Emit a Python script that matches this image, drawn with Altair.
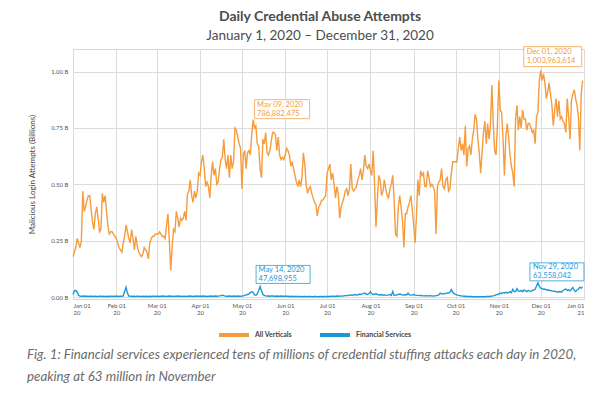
import altair as alt
import pandas as pd

# ---------------- data (billions of login attempts per day) ----------------
jan_all = [0.18,0.20,0.22,0.26,0.24,0.22,0.25,0.47,0.38,0.40, 0.43,0.45,0.45,0.39,0.33,0.30,0.37,0.40,0.35,0.29, 0.30,0.46,0.42,0.45,0.38,0.32,0.28,0.29,0.29,0.28,0.27]
feb_all = [0.26,0.24,0.22,0.21,0.20,0.24,0.27,0.32,0.29,0.26, 0.24,0.30,0.26,0.21,0.27,0.23,0.20,0.19,0.18,0.19, 0.22,0.21,0.20,0.17,0.24,0.26,0.27,0.27,0.28]
mar_all = [0.28,0.28,0.29,0.28,0.27,0.27,0.26,0.32,0.37,0.25, 0.12,0.22,0.30,0.29,0.38,0.35,0.31,0.35,0.34,0.35, 0.38,0.34,0.46,0.47,0.52,0.45,0.42,0.47,0.44,0.47,0.55]
apr_all = [0.54,0.60,0.63,0.57,0.49,0.51,0.49,0.44,0.54,0.60, 0.54,0.57,0.50,0.51,0.57,0.61,0.62,0.70,0.61,0.57, 0.63,0.53,0.63,0.57,0.60,0.75,0.74,0.71,0.68,0.66]
may_all = [0.48,0.63,0.65,0.57,0.64,0.65,0.63,0.72,0.786882475,0.75, 0.76,0.68,0.67,0.57,0.53,0.70,0.68,0.73,0.64,0.63, 0.65,0.69,0.73,0.73,0.72,0.65,0.71,0.63,0.61,0.62,0.61]
jun_all = [0.63,0.66,0.65,0.63,0.58,0.60,0.57,0.54,0.51,0.49, 0.52,0.49,0.53,0.64,0.59,0.50,0.46,0.48,0.49,0.46, 0.44,0.42,0.41,0.36,0.40,0.41,0.43,0.43,0.44,0.45]
jul_all = [0.55,0.57,0.59,0.52,0.55,0.50,0.44,0.49,0.46,0.35, 0.40,0.42,0.44,0.47,0.48,0.45,0.48,0.59,0.48,0.47, 0.48,0.49,0.52,0.54,0.57,0.52,0.56,0.63,0.58,0.57,0.59]
aug_all = [0.56,0.54,0.65,0.50,0.31,0.43,0.54,0.52,0.45,0.47, 0.52,0.48,0.45,0.44,0.48,0.50,0.54,0.43,0.28,0.27, 0.40,0.45,0.40,0.34,0.22,0.37,0.37,0.40,0.42,0.45,0.39]
sep_all = [0.32,0.24,0.36,0.52,0.45,0.56,0.54,0.55,0.49,0.49, 0.56,0.53,0.49,0.50,0.49,0.47,0.28,0.49,0.51,0.52, 0.57,0.49,0.48,0.52,0.53,0.47,0.48,0.55,0.60,0.60]
oct_all = [0.60,0.60,0.66,0.71,0.65,0.68,0.63,0.76,0.58,0.66, 0.67,0.63,0.70,0.74,0.81,0.79,0.70,0.64,0.55,0.64, 0.73,0.78,0.68,0.77,0.70,0.76,0.94,0.77,0.65,0.63,0.77]
nov_all = [0.96,0.83,0.82,0.70,0.54,0.71,0.77,0.71,0.63,0.58, 0.55,0.49,0.79,0.85,0.74,0.80,0.75,0.83,0.79,0.79, 0.74,0.77,0.77,0.75,0.73,0.74,0.68,0.80,0.82,0.96]
dec_all = [1.003963614,0.96,0.99,0.95,0.88,0.91,0.95,0.90,0.85,0.76, 0.83,0.88,0.80,0.87,0.79,0.80,0.78,0.77,0.73,0.88, 0.80,0.70,0.87,0.90,0.92,0.88,0.85,0.80,0.65,0.90,0.96]

jan_fin = [0.012,0.028,0.030,0.022,0.008,0.005,0.004,0.004,0.005,0.004, 0.004,0.003,0.004,0.004,0.003,0.004,0.004,0.003,0.003,0.004, 0.004,0.003,0.004,0.003,0.003,0.004,0.003,0.004,0.004,0.003,0.004]
feb_fin = [0.004,0.004,0.003,0.004,0.004,0.006,0.025,0.044,0.018,0.005, 0.004,0.004,0.003,0.004,0.003,0.004,0.004,0.003,0.003,0.004, 0.003,0.004,0.003,0.003,0.004,0.003,0.004,0.004,0.003]
mar_fin = [0.004,0.004,0.003,0.004,0.005,0.004,0.004,0.003,0.004,0.005, 0.004,0.004,0.003,0.004,0.004,0.005,0.004,0.004,0.003,0.004, 0.004,0.003,0.004,0.004,0.005,0.004,0.003,0.004,0.004,0.005,0.004]
apr_fin = [0.004,0.004,0.005,0.004,0.004,0.003,0.004,0.004,0.005,0.004, 0.004,0.005,0.004,0.005,0.006,0.007,0.009,0.007,0.005,0.004, 0.004,0.005,0.004,0.004,0.005,0.004,0.004,0.005,0.004,0.004]
may_fin = [0.005,0.006,0.008,0.010,0.012,0.015,0.020,0.024,0.022,0.010, 0.009,0.015,0.030,0.047698955,0.028,0.012,0.008,0.006,0.005,0.005, 0.004,0.005,0.005,0.004,0.004,0.005,0.004,0.004,0.005,0.004,0.004]
jun_fin = [0.004,0.004,0.004,0.003,0.003,0.004,0.003,0.003,0.003,0.003, 0.003,0.003,0.002,0.003,0.003,0.003,0.002,0.003,0.003,0.002, 0.002,0.003,0.003,0.002,0.002,0.003,0.003,0.002,0.003,0.003]
jul_fin = [0.003,0.003,0.003,0.004,0.004,0.003,0.004,0.005,0.004,0.005, 0.006,0.005,0.006,0.007,0.008,0.007,0.009,0.010,0.008,0.010, 0.012,0.010,0.011,0.013,0.012,0.015,0.016,0.018,0.014,0.012,0.016]
aug_fin = [0.024,0.015,0.012,0.013,0.016,0.012,0.011,0.010,0.012,0.009, 0.010,0.008,0.009,0.010,0.012,0.008,0.025,0.008,0.009,0.011, 0.012,0.014,0.012,0.010,0.009,0.012,0.010,0.018,0.010,0.009,0.010]
sep_fin = [0.012,0.009,0.008,0.008,0.007,0.008,0.007,0.006,0.006,0.007, 0.006,0.006,0.007,0.006,0.005,0.006,0.007,0.008,0.010,0.018, 0.015,0.014,0.017,0.016,0.019,0.018,0.022,0.034,0.022,0.016]
oct_fin = [0.012,0.010,0.008,0.007,0.006,0.005,0.004,0.004,0.003,0.003, 0.003,0.003,0.002,0.002,0.002,0.002,0.002,0.002,0.002,0.002, 0.002,0.002,0.003,0.003,0.003,0.004,0.005,0.006,0.008,0.010,0.012]
nov_fin = [0.014,0.018,0.016,0.020,0.019,0.022,0.018,0.021,0.025,0.020, 0.035,0.024,0.026,0.038,0.028,0.026,0.030,0.024,0.032,0.028, 0.025,0.030,0.027,0.026,0.030,0.032,0.035,0.050,0.063558042,0.048]
dec_fin = [0.040,0.038,0.035,0.036,0.032,0.033,0.030,0.030,0.028,0.026, 0.027,0.025,0.022,0.025,0.024,0.022,0.030,0.034,0.036,0.030, 0.033,0.028,0.036,0.043,0.030,0.025,0.032,0.036,0.044,0.040,0.045]

series_names = ["All Verticals", "Financial Services"]
series_colors = ["#F59C3C", "#1B98D5"]

y_ticks = [0, 0.25, 0.5, 0.75, 1.0]

annotations = [
    # date, value, line1, line2, series index, box w, box h, box dx, box dy, text dx
    ("2020-05-09", 0.786882475, "May 09, 2020", "786,882,475", 0, 55, 19, 29, -10.5, 4),
    ("2020-05-14", 0.047698955, "May 14, 2020", "47,698,955", 1, 54, 18, 23, -12, -1.5),
    ("2020-12-01", 1.003963614, "Dec 01, 2020", "1,003,963,614", 0, 58, 20, 12, -14, -14),
    ("2020-11-29", 0.063558042, "Nov 29, 2020", "63,558,042", 1, 54, 18, 19, -11, -5),
]

title_text = "Daily Credential Abuse Attempts"
subtitle_text = "January 1, 2020 \u2013 December 31, 2020"
y_title = "Malicious Login Attempts (Billions)"
caption_1 = "Fig. 1: Financial services experienced tens of millions of credential stuffing attacks each day in 2020,"
caption_2 = "peaking at 63 million in November"

# ---------------- build table ----------------
all_verticals = (jan_all + feb_all + mar_all + apr_all + may_all + jun_all +
                 jul_all + aug_all + sep_all + oct_all + nov_all + dec_all)
financial = (jan_fin + feb_fin + mar_fin + apr_fin + may_fin + jun_fin +
             jul_fin + aug_fin + sep_fin + oct_fin + nov_fin + dec_fin)
dates = pd.date_range("2020-01-01", "2020-12-31", freq="D").strftime("%Y-%m-%d").tolist()

df = pd.DataFrame({
    "date": dates + dates,
    "series": [series_names[0]] * len(dates) + [series_names[1]] * len(dates),
    "value": all_verticals + financial,
})

FONT = "Lato"
W, H = 511, 250

x_scale = alt.Scale(type="utc", domain=[alt.DateTime(year=2020, month=1, date=1, utc=True),
                                        alt.DateTime(year=2021, month=1, date=1, utc=True)])
month_ticks = [alt.DateTime(year=2020, month=m, date=1, utc=True) for m in range(1, 13)] + \
              [alt.DateTime(year=2021, month=1, date=1, utc=True)]
y_scale = alt.Scale(domain=[-0.008, 1.1], nice=False, zero=False)

lines = alt.Chart(df).mark_line(strokeWidth=1.4).encode(
    x=alt.X("date:T", scale=x_scale, title=None,
            axis=alt.Axis(values=month_ticks, grid=True, ticks=False, domain=False,
                          labelExpr="[utcFormat(datum.value, '%b %d'), utcFormat(datum.value, '%y')]",
                          labelFontSize=6, labelColor="#555", labelPadding=3, labelLineHeight=7,
                          labelFont=FONT)),
    y=alt.Y("value:Q", scale=y_scale,
            axis=alt.Axis(values=y_ticks, grid=True, ticks=False, domain=False,
                          labelExpr="format(datum.value, '.2f') + ' B'",
                          labelFontSize=6, labelColor="#555", labelPadding=5, labelFont=FONT,
                          title=y_title, titleFontSize=8, titleColor="#444", titleFont=FONT,
                          titleFontWeight="normal", titlePadding=14)),
    color=alt.Color("series:N", scale=alt.Scale(domain=series_names, range=series_colors),
                    legend=alt.Legend(orient="none", legendX=144, legendY=269, direction="horizontal",
                                      title=None, symbolType="stroke", symbolSize=900,
                                      symbolStrokeWidth=4, labelFontSize=7, labelFontWeight="bold",
                                      labelColor="#444", labelFont=FONT, labelOffset=4,
                                      columnPadding=20)),
)

layers = [lines]
for (d, v, l1, l2, si, bw, bh, bdx, bdy, tdx) in annotations:
    col = series_colors[si]
    ad = alt.Data(values=[{"date": d, "value": v}])
    r = bh / bw
    path = f"M-1,-{r:.4f}L1,-{r:.4f}L1,{r:.4f}L-1,{r:.4f}Z"
    box = alt.Chart(ad).mark_point(shape=path, size=bw * bw, filled=True, fill="white",
                                   fillOpacity=1, stroke=col, strokeOpacity=0.75, strokeWidth=1,
                                   opacity=1, xOffset=bdx, yOffset=bdy).encode(
        x=alt.X("date:T", scale=x_scale), y=alt.Y("value:Q", scale=y_scale))
    txt = alt.Chart(ad).mark_text(align="left", baseline="middle", dx=tdx, dy=bdy - 4.5, fontSize=7.5,
                                  lineHeight=9, color=col, font=FONT).encode(
        x=alt.X("date:T", scale=x_scale), y=alt.Y("value:Q", scale=y_scale),
        text=alt.value([l1, l2]))
    layers += [box, txt]

one = alt.Data(values=[{}])
def label(text, x, y, **kw):
    return alt.Chart(one).mark_text(font=FONT, **kw).encode(
        x=alt.value(x), y=alt.value(y), text=alt.value(text))

layers += [
    label(title_text, 247, -32, fontSize=14, fontWeight="bold", color="#4d4d4d", align="center", baseline="middle"),
    label(subtitle_text, 247, -13, fontSize=13.5, color="#4d4d4d", align="center", baseline="middle"),
    label(caption_1, -46, 306, fontSize=13.3, fontStyle="italic", color="#6b6b6b", align="left", baseline="middle"),
    label(caption_2, -46, 328, fontSize=13.3, fontStyle="italic", color="#6b6b6b", align="left", baseline="middle"),
]

chart = alt.layer(*layers).properties(
    width=W, height=H,
    autosize=alt.AutoSizeParams(type="none"),
    padding={"left": 65, "top": 41, "right": 8, "bottom": 94},
).configure_view(stroke="#d6d6d6", strokeWidth=1).configure_axis(
    gridColor="#dcdcdc", gridWidth=1
)

chart.save("out.html", embed_options={"renderer": "svg", "actions": False})
